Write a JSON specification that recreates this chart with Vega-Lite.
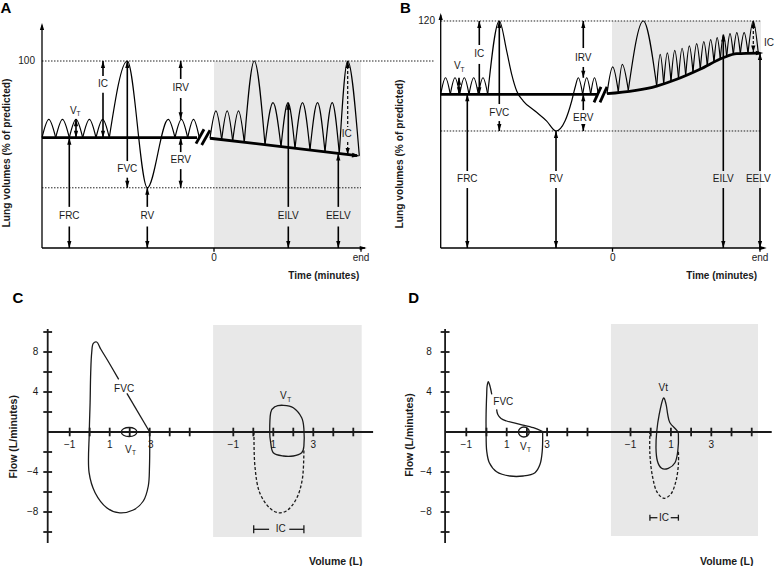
{
"$schema":"https://vega.github.io/schema/vega-lite/v6.json",
"padding":0,
"background":"white",
"config":{"font":"Liberation Sans","view":{"stroke":null},"text":{"font":"Liberation Sans"}},
"spacing":0,
"bounds":"flush",
"columns":2,
"datasets":{
"bg":[
{"p":"A","x":0,"x2":147,"y":100,"y2":0},
{"p":"B","x":0,"x2":149,"y":120,"y2":0},
{"p":"C","x":6.17,"x2":13.6,"y":10.7,"y2":-10.5},
{"p":"D","x":6.16,"x2":13.44,"y":10.8,"y2":-10.4}
],
"seg":[
{"p":"A","k":"axis","x":-172,"y":0,"x2":-172,"y2":119},
{"p":"A","k":"axis","x":-172,"y":0,"x2":151,"y2":0},
{"p":"A","k":"axis","x":0,"y":0,"x2":0,"y2":-2},
{"p":"A","k":"axis","x":147,"y":0,"x2":147,"y2":-2},
{"p":"A","k":"dot","x":-172,"y":100,"x2":173,"y2":100},
{"p":"A","k":"dot","x":-172,"y":32.2,"x2":147,"y2":32.2},
{"p":"A","k":"thick","x":-172,"y":59,"x2":-17,"y2":59},
{"p":"A","k":"thick","x":-4,"y":58.7,"x2":143,"y2":49.4},
{"p":"A","k":"brk","x":-18,"y":55.8,"x2":-10,"y2":63.5},
{"p":"A","k":"brk","x":-12.3,"y":55.1,"x2":-4,"y2":63},
{"p":"A","k":"meas","x":-111,"y":100,"x2":-111,"y2":92},
{"p":"A","k":"meas","x":-111,"y":83,"x2":-111,"y2":59},
{"p":"A","k":"meas","x":-138,"y":68.8,"x2":-138,"y2":59},
{"p":"A","k":"meas","x":-86.7,"y":100,"x2":-86.7,"y2":46.5},
{"p":"A","k":"meas","x":-86.7,"y":37.6,"x2":-86.7,"y2":32.2},
{"p":"A","k":"meas","x":-33.3,"y":100,"x2":-33.3,"y2":90.4},
{"p":"A","k":"meas","x":-33.3,"y":80.2,"x2":-33.3,"y2":68.8},
{"p":"A","k":"meas","x":-33.3,"y":59,"x2":-33.3,"y2":51.3},
{"p":"A","k":"meas","x":-33.3,"y":42.2,"x2":-33.3,"y2":32.2},
{"p":"A","k":"meas","x":-144.7,"y":59,"x2":-144.7,"y2":22},
{"p":"A","k":"meas","x":-144.7,"y":11.5,"x2":-144.7,"y2":0},
{"p":"A","k":"meas","x":-66.7,"y":32.2,"x2":-66.7,"y2":22},
{"p":"A","k":"meas","x":-66.7,"y":11.5,"x2":-66.7,"y2":0},
{"p":"A","k":"meas","x":74.3,"y":77.7,"x2":74.3,"y2":22},
{"p":"A","k":"meas","x":74.3,"y":11.5,"x2":74.3,"y2":0},
{"p":"A","k":"meas","x":124.3,"y":50.6,"x2":124.3,"y2":22},
{"p":"A","k":"meas","x":124.3,"y":11.5,"x2":124.3,"y2":0},
{"p":"A","k":"dash","x":133.7,"y":100,"x2":133.7,"y2":64.7},
{"p":"A","k":"dash","x":133.7,"y":56.7,"x2":133.7,"y2":49.8},

{"p":"B","k":"axis","x":-171.3,"y":0,"x2":-171.3,"y2":123},
{"p":"B","k":"axis","x":-171.3,"y":0,"x2":152,"y2":0},
{"p":"B","k":"axis","x":0.5,"y":0,"x2":0.5,"y2":-2},
{"p":"B","k":"axis","x":148,"y":0,"x2":148,"y2":-2},
{"p":"B","k":"dot","x":-171.3,"y":120,"x2":149,"y2":120},
{"p":"B","k":"dot","x":-225,"y":98.85,"x2":-177,"y2":98.85},
{"p":"B","k":"dot","x":-171.3,"y":61.85,"x2":149,"y2":61.85},
{"p":"B","k":"thick","x":-171.3,"y":81.25,"x2":-15,"y2":81.25},
{"p":"B","k":"brk","x":-18,"y":77,"x2":-11,"y2":85.2},
{"p":"B","k":"brk","x":-12,"y":77,"x2":-5,"y2":85.2},
{"p":"B","k":"meas","x":-132.7,"y":120,"x2":-132.7,"y2":107.3},
{"p":"B","k":"meas","x":-132.7,"y":97.3,"x2":-132.7,"y2":81.25},
{"p":"B","k":"meas","x":-153,"y":90,"x2":-153,"y2":81.25},
{"p":"B","k":"meas","x":-112.7,"y":120,"x2":-112.7,"y2":76.1},
{"p":"B","k":"meas","x":-112.7,"y":67.1,"x2":-112.7,"y2":61.85},
{"p":"B","k":"meas","x":-28.7,"y":120,"x2":-28.7,"y2":105.7},
{"p":"B","k":"meas","x":-28.7,"y":95.7,"x2":-28.7,"y2":90},
{"p":"B","k":"meas","x":-28.7,"y":81.25,"x2":-28.7,"y2":72.9},
{"p":"B","k":"meas","x":-28.7,"y":65,"x2":-28.7,"y2":61.85},
{"p":"B","k":"meas","x":-144.7,"y":81.25,"x2":-144.7,"y2":40.7},
{"p":"B","k":"meas","x":-144.7,"y":31.7,"x2":-144.7,"y2":0},
{"p":"B","k":"meas","x":-56,"y":61.85,"x2":-56,"y2":40.7},
{"p":"B","k":"meas","x":-56,"y":31.7,"x2":-56,"y2":0},
{"p":"B","k":"meas","x":111.3,"y":112.8,"x2":111.3,"y2":40.7},
{"p":"B","k":"meas","x":111.3,"y":31.7,"x2":111.3,"y2":0},
{"p":"B","k":"meas","x":148,"y":103.1,"x2":148,"y2":40.7},
{"p":"B","k":"meas","x":148,"y":31.7,"x2":148,"y2":0},
{"p":"B","k":"dash","x":141.3,"y":120,"x2":141.3,"y2":103.5},

{"p":"C","k":"axis2","x":-2.1,"y":10.3,"x2":-2.1,"y2":-11.1},
{"p":"C","k":"axis2","x":-2.1,"y":0,"x2":14.17,"y2":0},
{"p":"C","k":"axis2","x":-2.32,"y":10,"x2":-1.88,"y2":10},
{"p":"C","k":"axis2","x":-2.32,"y":8,"x2":-1.88,"y2":8},
{"p":"C","k":"axis2","x":-2.32,"y":6,"x2":-1.88,"y2":6},
{"p":"C","k":"axis2","x":-2.32,"y":4,"x2":-1.88,"y2":4},
{"p":"C","k":"axis2","x":-2.32,"y":2,"x2":-1.88,"y2":2},
{"p":"C","k":"axis2","x":-2.32,"y":-2,"x2":-1.88,"y2":-2},
{"p":"C","k":"axis2","x":-2.32,"y":-4,"x2":-1.88,"y2":-4},
{"p":"C","k":"axis2","x":-2.32,"y":-6,"x2":-1.88,"y2":-6},
{"p":"C","k":"axis2","x":-2.32,"y":-8,"x2":-1.88,"y2":-8},
{"p":"C","k":"axis2","x":-2.32,"y":-10,"x2":-1.88,"y2":-10},
{"p":"C","k":"axis2","x":-1,"y":-0.43,"x2":-1,"y2":0.43},
{"p":"C","k":"axis2","x":0,"y":-0.43,"x2":0,"y2":0.43},
{"p":"C","k":"axis2","x":1,"y":-0.43,"x2":1,"y2":0.43},
{"p":"C","k":"axis2","x":2,"y":-0.43,"x2":2,"y2":0.43},
{"p":"C","k":"axis2","x":3,"y":-0.43,"x2":3,"y2":0.43},
{"p":"C","k":"axis2","x":4,"y":-0.43,"x2":4,"y2":0.43},
{"p":"C","k":"axis2","x":5,"y":-0.43,"x2":5,"y2":0.43},
{"p":"C","k":"axis2","x":7.18,"y":-0.43,"x2":7.18,"y2":0.43},
{"p":"C","k":"axis2","x":8.18,"y":-0.43,"x2":8.18,"y2":0.43},
{"p":"C","k":"axis2","x":9.18,"y":-0.43,"x2":9.18,"y2":0.43},
{"p":"C","k":"axis2","x":10.18,"y":-0.43,"x2":10.18,"y2":0.43},
{"p":"C","k":"axis2","x":11.18,"y":-0.43,"x2":11.18,"y2":0.43},
{"p":"C","k":"axis2","x":12.18,"y":-0.43,"x2":12.18,"y2":0.43},
{"p":"C","k":"axis2","x":13.18,"y":-0.43,"x2":13.18,"y2":0.43},
{"p":"C","k":"thin","x":3,"y":0,"x2":1.86,"y2":3.87},
{"p":"C","k":"thin","x":8.2,"y":-9.73,"x2":8.97,"y2":-9.73},
{"p":"C","k":"thin","x":9.98,"y":-9.73,"x2":10.71,"y2":-9.73},
{"p":"C","k":"thin","x":8.2,"y":-9.33,"x2":8.2,"y2":-10.13},
{"p":"C","k":"thin","x":10.71,"y":-9.33,"x2":10.71,"y2":-10.13},

{"p":"D","k":"axis2","x":-2.05,"y":10.3,"x2":-2.05,"y2":-11.1},
{"p":"D","k":"axis2","x":-2.05,"y":0,"x2":14.12,"y2":0},
{"p":"D","k":"axis2","x":-2.27,"y":10,"x2":-1.83,"y2":10},
{"p":"D","k":"axis2","x":-2.27,"y":8,"x2":-1.83,"y2":8},
{"p":"D","k":"axis2","x":-2.27,"y":6,"x2":-1.83,"y2":6},
{"p":"D","k":"axis2","x":-2.27,"y":4,"x2":-1.83,"y2":4},
{"p":"D","k":"axis2","x":-2.27,"y":2,"x2":-1.83,"y2":2},
{"p":"D","k":"axis2","x":-2.27,"y":-2,"x2":-1.83,"y2":-2},
{"p":"D","k":"axis2","x":-2.27,"y":-4,"x2":-1.83,"y2":-4},
{"p":"D","k":"axis2","x":-2.27,"y":-6,"x2":-1.83,"y2":-6},
{"p":"D","k":"axis2","x":-2.27,"y":-8,"x2":-1.83,"y2":-8},
{"p":"D","k":"axis2","x":-2.27,"y":-10,"x2":-1.83,"y2":-10},
{"p":"D","k":"axis2","x":-1,"y":-0.43,"x2":-1,"y2":0.43},
{"p":"D","k":"axis2","x":0,"y":-0.43,"x2":0,"y2":0.43},
{"p":"D","k":"axis2","x":1,"y":-0.43,"x2":1,"y2":0.43},
{"p":"D","k":"axis2","x":2,"y":-0.43,"x2":2,"y2":0.43},
{"p":"D","k":"axis2","x":3,"y":-0.43,"x2":3,"y2":0.43},
{"p":"D","k":"axis2","x":4,"y":-0.43,"x2":4,"y2":0.43},
{"p":"D","k":"axis2","x":5,"y":-0.43,"x2":5,"y2":0.43},
{"p":"D","k":"axis2","x":7.13,"y":-0.43,"x2":7.13,"y2":0.43},
{"p":"D","k":"axis2","x":8.13,"y":-0.43,"x2":8.13,"y2":0.43},
{"p":"D","k":"axis2","x":9.13,"y":-0.43,"x2":9.13,"y2":0.43},
{"p":"D","k":"axis2","x":10.13,"y":-0.43,"x2":10.13,"y2":0.43},
{"p":"D","k":"axis2","x":11.13,"y":-0.43,"x2":11.13,"y2":0.43},
{"p":"D","k":"axis2","x":12.13,"y":-0.43,"x2":12.13,"y2":0.43},
{"p":"D","k":"axis2","x":13.13,"y":-0.43,"x2":13.13,"y2":0.43},
{"p":"D","k":"thin","x":8.09,"y":-8.57,"x2":8.46,"y2":-8.57},
{"p":"D","k":"thin","x":9.12,"y":-8.57,"x2":9.5,"y2":-8.57},
{"p":"D","k":"thin","x":8.09,"y":-8.27,"x2":8.09,"y2":-8.87},
{"p":"D","k":"thin","x":9.5,"y":-8.27,"x2":9.5,"y2":-8.87}
],
"arrow":[
{"p":"A","d":"up","x":-172,"y":120.3},
{"p":"A","d":"up","x":-111,"y":100},
{"p":"A","d":"up","x":-138,"y":68.8},
{"p":"A","d":"up","x":-86.7,"y":100},
{"p":"A","d":"up","x":-33.3,"y":100},
{"p":"A","d":"up","x":-33.3,"y":59},
{"p":"A","d":"up","x":-144.7,"y":59},
{"p":"A","d":"up","x":-66.7,"y":32.2},
{"p":"A","d":"up","x":74.3,"y":77.7},
{"p":"A","d":"up","x":124.3,"y":50.6},
{"p":"A","d":"up","x":133.7,"y":100},
{"p":"A","d":"down","x":-111,"y":59},
{"p":"A","d":"down","x":-138,"y":59},
{"p":"A","d":"down","x":-86.7,"y":32.2},
{"p":"A","d":"down","x":-33.3,"y":68.8},
{"p":"A","d":"down","x":-33.3,"y":32.2},
{"p":"A","d":"down","x":-144.7,"y":0},
{"p":"A","d":"down","x":-66.7,"y":0},
{"p":"A","d":"down","x":74.3,"y":0},
{"p":"A","d":"down","x":124.3,"y":0},
{"p":"A","d":"down","x":133.7,"y":49.8},
{"p":"A","d":"right","x":152.7,"y":0},
{"p":"A","d":"rightA","x":146,"y":49.2},
{"p":"B","d":"up","x":-171.3,"y":124.2},
{"p":"B","d":"up","x":-132.7,"y":120},
{"p":"B","d":"up","x":-153,"y":90},
{"p":"B","d":"up","x":-112.7,"y":120},
{"p":"B","d":"up","x":-28.7,"y":120},
{"p":"B","d":"up","x":-28.7,"y":81.25},
{"p":"B","d":"up","x":-144.7,"y":81.25},
{"p":"B","d":"up","x":-56,"y":61.85},
{"p":"B","d":"up","x":111.3,"y":112.8},
{"p":"B","d":"up","x":148,"y":103.1},
{"p":"B","d":"up","x":141.3,"y":120},
{"p":"B","d":"down","x":-132.7,"y":81.25},
{"p":"B","d":"down","x":-153,"y":81.25},
{"p":"B","d":"down","x":-112.7,"y":61.85},
{"p":"B","d":"down","x":-28.7,"y":90},
{"p":"B","d":"down","x":-28.7,"y":61.85},
{"p":"B","d":"down","x":-144.7,"y":0},
{"p":"B","d":"down","x":-56,"y":0},
{"p":"B","d":"down","x":111.3,"y":0},
{"p":"B","d":"down","x":148,"y":0},
{"p":"B","d":"down","x":141.3,"y":103.3},
{"p":"B","d":"right","x":154.7,"y":0},
{"p":"B","d":"right","x":151.3,"y":103.1}
],
"curve":[
{"p":"A","k":"mono","s":"a1","x":-172,"y":59},{"p":"A","k":"mono","s":"a1","x":-165.2,"y":68.8},{"p":"A","k":"mono","s":"a1","x":-158.3,"y":59},
{"p":"A","k":"mono","s":"a2","x":-158.3,"y":59},{"p":"A","k":"mono","s":"a2","x":-151.5,"y":68.8},{"p":"A","k":"mono","s":"a2","x":-144.7,"y":59},
{"p":"A","k":"mono","s":"a3","x":-144.7,"y":59},{"p":"A","k":"mono","s":"a3","x":-138,"y":68.8},{"p":"A","k":"mono","s":"a3","x":-131.3,"y":59},
{"p":"A","k":"mono","s":"a4","x":-131.3,"y":59},{"p":"A","k":"mono","s":"a4","x":-124.6,"y":68.8},{"p":"A","k":"mono","s":"a4","x":-118,"y":59},
{"p":"A","k":"mono","s":"a5","x":-118,"y":59},{"p":"A","k":"mono","s":"a5","x":-111.3,"y":68.8},{"p":"A","k":"mono","s":"a5","x":-104.7,"y":59},
{"p":"A","k":"mono","s":"f","x":-104.7,"y":59},{"p":"A","k":"mono","s":"f","x":-86.7,"y":100},{"p":"A","k":"mono","s":"f","x":-66.7,"y":32.2},{"p":"A","k":"mono","s":"f","x":-45.7,"y":68.8},{"p":"A","k":"mono","s":"f","x":-39,"y":59},
{"p":"A","k":"mono","s":"a6","x":-39,"y":59},{"p":"A","k":"mono","s":"a6","x":-32.6,"y":68.8},{"p":"A","k":"mono","s":"a6","x":-26.3,"y":59},
{"p":"A","k":"mono","s":"a7","x":-26.3,"y":59},{"p":"A","k":"mono","s":"a7","x":-20.5,"y":68.8},{"p":"A","k":"mono","s":"a7","x":-14.7,"y":59},
{"p":"A","k":"mono","s":"b1","x":-4,"y":58.7},{"p":"A","k":"mono","s":"b1","x":1.9,"y":73.3},{"p":"A","k":"mono","s":"b1","x":7.7,"y":58},
{"p":"A","k":"mono","s":"b2","x":7.7,"y":58},{"p":"A","k":"mono","s":"b2","x":13.2,"y":73.3},{"p":"A","k":"mono","s":"b2","x":18.7,"y":57.3},
{"p":"A","k":"mono","s":"b3","x":18.7,"y":57.3},{"p":"A","k":"mono","s":"b3","x":24.5,"y":73.3},{"p":"A","k":"mono","s":"b3","x":30.3,"y":56.5},
{"p":"A","k":"mono","s":"g1","x":30.3,"y":56.5},{"p":"A","k":"mono","s":"g1","x":40.3,"y":100},{"p":"A","k":"mono","s":"g1","x":51,"y":55.2},
{"p":"A","k":"mono","s":"b4","x":51,"y":55.2},{"p":"A","k":"mono","s":"b4","x":59,"y":77.7},{"p":"A","k":"mono","s":"b4","x":67,"y":54.2},
{"p":"A","k":"mono","s":"b5","x":67,"y":54.2},{"p":"A","k":"mono","s":"b5","x":74,"y":77.7},{"p":"A","k":"mono","s":"b5","x":81,"y":53.3},
{"p":"A","k":"mono","s":"b6","x":81,"y":53.3},{"p":"A","k":"mono","s":"b6","x":88.5,"y":77.7},{"p":"A","k":"mono","s":"b6","x":96,"y":52.4},
{"p":"A","k":"mono","s":"b7","x":96,"y":52.4},{"p":"A","k":"mono","s":"b7","x":103.5,"y":77.7},{"p":"A","k":"mono","s":"b7","x":111,"y":51.4},
{"p":"A","k":"mono","s":"b8","x":111,"y":51.4},{"p":"A","k":"mono","s":"b8","x":118.2,"y":77.7},{"p":"A","k":"mono","s":"b8","x":125.3,"y":50.5},
{"p":"A","k":"mono","s":"g2","x":125.3,"y":50.5},{"p":"A","k":"mono","s":"g2","x":133.7,"y":100},{"p":"A","k":"mono","s":"g2","x":145.3,"y":49.3},

{"p":"B","k":"mono","s":"c1","x":-171.3,"y":81.25},{"p":"B","k":"mono","s":"c1","x":-166.5,"y":90},{"p":"B","k":"mono","s":"c1","x":-161.7,"y":81.25},
{"p":"B","k":"mono","s":"c2","x":-161.7,"y":81.25},{"p":"B","k":"mono","s":"c2","x":-157,"y":90},{"p":"B","k":"mono","s":"c2","x":-152.3,"y":81.25},
{"p":"B","k":"mono","s":"c3","x":-152.3,"y":81.25},{"p":"B","k":"mono","s":"c3","x":-147.7,"y":90},{"p":"B","k":"mono","s":"c3","x":-143,"y":81.25},
{"p":"B","k":"mono","s":"c4","x":-143,"y":81.25},{"p":"B","k":"mono","s":"c4","x":-138.3,"y":90},{"p":"B","k":"mono","s":"c4","x":-133.7,"y":81.25},
{"p":"B","k":"mono","s":"c5","x":-133.7,"y":81.25},{"p":"B","k":"mono","s":"c5","x":-129,"y":90},{"p":"B","k":"mono","s":"c5","x":-124.3,"y":81.25},
{"p":"B","k":"mono","s":"f","x":-124.3,"y":81.25},{"p":"B","k":"mono","s":"f","x":-112.7,"y":120},{"p":"B","k":"mono","s":"f","x":-105.3,"y":104.1},{"p":"B","k":"mono","s":"f","x":-100.3,"y":91.8},{"p":"B","k":"mono","s":"f","x":-95.3,"y":83},{"p":"B","k":"mono","s":"f","x":-88.7,"y":77.7},{"p":"B","k":"mono","s":"f","x":-77,"y":72.4},{"p":"B","k":"mono","s":"f","x":-65.3,"y":67.1},{"p":"B","k":"mono","s":"f","x":-56,"y":61.85},{"p":"B","k":"mono","s":"f","x":-47,"y":67.1},{"p":"B","k":"mono","s":"f","x":-40.3,"y":77.7},{"p":"B","k":"mono","s":"f","x":-37,"y":84.7},{"p":"B","k":"mono","s":"f","x":-33.7,"y":90},{"p":"B","k":"mono","s":"f","x":-29.3,"y":81.25},
{"p":"B","k":"mono","s":"c6","x":-29.3,"y":81.25},{"p":"B","k":"mono","s":"c6","x":-25.3,"y":90},{"p":"B","k":"mono","s":"c6","x":-21.3,"y":81.25},
{"p":"B","k":"mono","s":"c7","x":-21.3,"y":81.25},{"p":"B","k":"mono","s":"c7","x":-17.5,"y":90},{"p":"B","k":"mono","s":"c7","x":-13.7,"y":81.25},
{"p":"B","k":"mono","s":"d1","x":-5,"y":81.6},{"p":"B","k":"mono","s":"d1","x":0.7,"y":95.7},{"p":"B","k":"mono","s":"d1","x":6.3,"y":82.6},
{"p":"B","k":"mono","s":"d2","x":6.3,"y":82.6},{"p":"B","k":"mono","s":"d2","x":10.3,"y":97.1},{"p":"B","k":"mono","s":"d2","x":16.3,"y":83.4},
{"p":"B","k":"mono","s":"g1","x":16.3,"y":83.4},{"p":"B","k":"mono","s":"g1","x":31.3,"y":120},{"p":"B","k":"mono","s":"g1","x":44.7,"y":85.6},
{"p":"B","k":"mono","s":"e1","x":44.7,"y":85.6},{"p":"B","k":"mono","s":"e1","x":48.2,"y":102.4},{"p":"B","k":"mono","s":"e1","x":51.7,"y":86.86},
{"p":"B","k":"mono","s":"e2","x":51.7,"y":86.86},{"p":"B","k":"mono","s":"e2","x":55.35,"y":103.2},{"p":"B","k":"mono","s":"e2","x":59,"y":88.17},
{"p":"B","k":"mono","s":"e3","x":59,"y":88.17},{"p":"B","k":"mono","s":"e3","x":62.75,"y":104.5},{"p":"B","k":"mono","s":"e3","x":66.5,"y":89.6},
{"p":"B","k":"mono","s":"e4","x":66.5,"y":89.6},{"p":"B","k":"mono","s":"e4","x":70.1,"y":105.6},{"p":"B","k":"mono","s":"e4","x":73.7,"y":91.24},
{"p":"B","k":"mono","s":"e5","x":73.7,"y":91.24},{"p":"B","k":"mono","s":"e5","x":77.35,"y":106.8},{"p":"B","k":"mono","s":"e5","x":81,"y":92.9},
{"p":"B","k":"mono","s":"e6","x":81,"y":92.9},{"p":"B","k":"mono","s":"e6","x":84.65,"y":108},{"p":"B","k":"mono","s":"e6","x":88.3,"y":94.58},
{"p":"B","k":"mono","s":"e7","x":88.3,"y":94.58},{"p":"B","k":"mono","s":"e7","x":91.8,"y":109.1},{"p":"B","k":"mono","s":"e7","x":95.3,"y":96.41},
{"p":"B","k":"mono","s":"e8","x":95.3,"y":96.41},{"p":"B","k":"mono","s":"e8","x":98.65,"y":110.1},{"p":"B","k":"mono","s":"e8","x":102,"y":98.17},
{"p":"B","k":"mono","s":"e9","x":102,"y":98.17},{"p":"B","k":"mono","s":"e9","x":105.15,"y":111.2},{"p":"B","k":"mono","s":"e9","x":108.3,"y":99.82},
{"p":"B","k":"mono","s":"e10","x":108.3,"y":99.82},{"p":"B","k":"mono","s":"e10","x":111.5,"y":112.6},{"p":"B","k":"mono","s":"e10","x":114.7,"y":101.13},
{"p":"B","k":"mono","s":"e11","x":114.7,"y":101.13},{"p":"B","k":"mono","s":"e11","x":118,"y":113.3},{"p":"B","k":"mono","s":"e11","x":121.3,"y":102.17},
{"p":"B","k":"mono","s":"e12","x":121.3,"y":102.17},{"p":"B","k":"mono","s":"e12","x":124.8,"y":113.8},{"p":"B","k":"mono","s":"e12","x":128.3,"y":102.75},
{"p":"B","k":"mono","s":"e13","x":128.3,"y":102.75},{"p":"B","k":"mono","s":"e13","x":132.15,"y":113.8},{"p":"B","k":"mono","s":"e13","x":136,"y":102.87},
{"p":"B","k":"mono","s":"g2","x":136,"y":102.87},{"p":"B","k":"mono","s":"g2","x":141.2,"y":120},{"p":"B","k":"mono","s":"g2","x":146.3,"y":103.02},
{"p":"B","k":"thickline","s":"base","x":-5,"y":81.6},{"p":"B","k":"thickline","s":"base","x":44.7,"y":85.6},{"p":"B","k":"thickline","s":"base","x":64.7,"y":89.2},{"p":"B","k":"thickline","s":"base","x":88,"y":94.5},{"p":"B","k":"thickline","s":"base","x":111.3,"y":100.6},{"p":"B","k":"thickline","s":"base","x":124.7,"y":102.7},{"p":"B","k":"thickline","s":"base","x":147,"y":103.05},

{"p":"C","k":"open","s":"fvc","o":1,"x":1.45,"y":5.27},{"p":"C","k":"open","s":"fvc","o":2,"x":0.9,"y":7.15},{"p":"C","k":"open","s":"fvc","o":3,"x":0.55,"y":8.3},{"p":"C","k":"open","s":"fvc","o":4,"x":0.35,"y":9.0},{"p":"C","k":"open","s":"fvc","o":5,"x":0.18,"y":8.87},{"p":"C","k":"open","s":"fvc","o":6,"x":0.1,"y":7.93},{"p":"C","k":"open","s":"fvc","o":7,"x":0.05,"y":5.93},{"p":"C","k":"open","s":"fvc","o":8,"x":0.02,"y":2.93},{"p":"C","k":"open","s":"fvc","o":9,"x":-0.02,"y":0},{"p":"C","k":"open","s":"fvc","o":10,"x":-0.03,"y":-4.07},{"p":"C","k":"open","s":"fvc","o":11,"x":0.27,"y":-6.07},{"p":"C","k":"open","s":"fvc","o":12,"x":0.85,"y":-7.57},{"p":"C","k":"open","s":"fvc","o":13,"x":1.43,"y":-8.07},{"p":"C","k":"open","s":"fvc","o":14,"x":2.18,"y":-7.8},{"p":"C","k":"open","s":"fvc","o":15,"x":2.68,"y":-6.9},{"p":"C","k":"open","s":"fvc","o":16,"x":2.93,"y":-5.4},{"p":"C","k":"open","s":"fvc","o":17,"x":2.99,"y":-3.4},{"p":"C","k":"open","s":"fvc","o":18,"x":3,"y":0},
{"p":"C","k":"closed","s":"vt1","o":1,"x":2.36,"y":0},{"p":"C","k":"closed","s":"vt1","o":2,"x":2.25,"y":0.32},{"p":"C","k":"closed","s":"vt1","o":3,"x":1.97,"y":0.45},{"p":"C","k":"closed","s":"vt1","o":4,"x":1.69,"y":0.32},{"p":"C","k":"closed","s":"vt1","o":5,"x":1.58,"y":0},{"p":"C","k":"closed","s":"vt1","o":6,"x":1.69,"y":-0.32},{"p":"C","k":"closed","s":"vt1","o":7,"x":1.97,"y":-0.45},{"p":"C","k":"closed","s":"vt1","o":8,"x":2.25,"y":-0.32},
{"p":"C","k":"closed","s":"vt2","o":1,"x":9.0,"y":0},{"p":"C","k":"closed","s":"vt2","o":2,"x":9.05,"y":1.93},{"p":"C","k":"closed","s":"vt2","o":3,"x":9.26,"y":2.53},{"p":"C","k":"closed","s":"vt2","o":4,"x":9.68,"y":2.67},{"p":"C","k":"closed","s":"vt2","o":5,"x":10.18,"y":2.43},{"p":"C","k":"closed","s":"vt2","o":6,"x":10.6,"y":1.43},{"p":"C","k":"closed","s":"vt2","o":7,"x":10.71,"y":0.27},{"p":"C","k":"closed","s":"vt2","o":8,"x":10.71,"y":-1.4},{"p":"C","k":"closed","s":"vt2","o":9,"x":10.6,"y":-2.07},{"p":"C","k":"closed","s":"vt2","o":10,"x":10.18,"y":-2.4},{"p":"C","k":"closed","s":"vt2","o":11,"x":9.68,"y":-2.4},{"p":"C","k":"closed","s":"vt2","o":12,"x":9.18,"y":-2.07},{"p":"C","k":"closed","s":"vt2","o":13,"x":9.05,"y":-1.07},
{"p":"C","k":"dash","s":"ic","o":1,"x":8.215,"y":0},{"p":"C","k":"dash","s":"ic","o":2,"x":8.26,"y":-3.4},{"p":"C","k":"dash","s":"ic","o":3,"x":8.5,"y":-6.07},{"p":"C","k":"dash","s":"ic","o":4,"x":9.0,"y":-7.6},{"p":"C","k":"dash","s":"ic","o":5,"x":9.42,"y":-8.07},{"p":"C","k":"dash","s":"ic","o":6,"x":9.83,"y":-7.9},{"p":"C","k":"dash","s":"ic","o":7,"x":10.33,"y":-6.7},{"p":"C","k":"dash","s":"ic","o":8,"x":10.63,"y":-4.73},{"p":"C","k":"dash","s":"ic","o":9,"x":10.71,"y":-1.73},

{"p":"D","k":"open","s":"fvc1","o":1,"x":0.26,"y":3.77},{"p":"D","k":"open","s":"fvc1","o":2,"x":0.17,"y":4.6},{"p":"D","k":"open","s":"fvc1","o":3,"x":0.09,"y":5.03},{"p":"D","k":"open","s":"fvc1","o":4,"x":0.03,"y":4.6},{"p":"D","k":"open","s":"fvc1","o":5,"x":0.01,"y":3.77},{"p":"D","k":"open","s":"fvc1","o":6,"x":-0.02,"y":1.77},{"p":"D","k":"open","s":"fvc1","o":7,"x":-0.02,"y":0},{"p":"D","k":"open","s":"fvc1","o":8,"x":0.01,"y":-1.9},{"p":"D","k":"open","s":"fvc1","o":9,"x":0.14,"y":-3.07},{"p":"D","k":"open","s":"fvc1","o":10,"x":0.5,"y":-3.97},{"p":"D","k":"open","s":"fvc1","o":11,"x":1.16,"y":-4.4},{"p":"D","k":"open","s":"fvc1","o":12,"x":1.82,"y":-4.4},{"p":"D","k":"open","s":"fvc1","o":13,"x":2.4,"y":-4.07},{"p":"D","k":"open","s":"fvc1","o":14,"x":2.65,"y":-3.23},{"p":"D","k":"open","s":"fvc1","o":15,"x":2.76,"y":-1.9},{"p":"D","k":"open","s":"fvc1","o":16,"x":2.78,"y":0},
{"p":"D","k":"open","s":"fvc2","o":1,"x":0.5,"y":2.27},{"p":"D","k":"open","s":"fvc2","o":2,"x":0.56,"y":1.75},{"p":"D","k":"open","s":"fvc2","o":3,"x":0.72,"y":1.35},{"p":"D","k":"open","s":"fvc2","o":4,"x":1.0,"y":1.1},{"p":"D","k":"open","s":"fvc2","o":5,"x":1.66,"y":0.77},{"p":"D","k":"open","s":"fvc2","o":6,"x":2.32,"y":0.43},{"p":"D","k":"open","s":"fvc2","o":7,"x":2.78,"y":0.05},
{"p":"D","k":"closed","s":"vt1","o":1,"x":2.12,"y":0},{"p":"D","k":"closed","s":"vt1","o":2,"x":2.04,"y":0.35},{"p":"D","k":"closed","s":"vt1","o":3,"x":1.85,"y":0.5},{"p":"D","k":"closed","s":"vt1","o":4,"x":1.66,"y":0.35},{"p":"D","k":"closed","s":"vt1","o":5,"x":1.58,"y":0},{"p":"D","k":"closed","s":"vt1","o":6,"x":1.66,"y":-0.35},{"p":"D","k":"closed","s":"vt1","o":7,"x":1.85,"y":-0.5},{"p":"D","k":"closed","s":"vt1","o":8,"x":2.04,"y":-0.35},
{"p":"D","k":"closed","s":"vt2","o":1,"x":8.75,"y":3.37},{"p":"D","k":"closed","s":"vt2","o":2,"x":8.89,"y":2.77},{"p":"D","k":"closed","s":"vt2","o":3,"x":8.97,"y":1.77},{"p":"D","k":"closed","s":"vt2","o":4,"x":9.08,"y":0.93},{"p":"D","k":"closed","s":"vt2","o":5,"x":9.42,"y":0.17},{"p":"D","k":"closed","s":"vt2","o":6,"x":9.5,"y":-0.23},{"p":"D","k":"closed","s":"vt2","o":7,"x":9.47,"y":-1.9},{"p":"D","k":"closed","s":"vt2","o":8,"x":9.33,"y":-3.07},{"p":"D","k":"closed","s":"vt2","o":9,"x":9.0,"y":-3.63},{"p":"D","k":"closed","s":"vt2","o":10,"x":8.67,"y":-3.63},{"p":"D","k":"closed","s":"vt2","o":11,"x":8.46,"y":-2.9},{"p":"D","k":"closed","s":"vt2","o":12,"x":8.39,"y":-1.57},{"p":"D","k":"closed","s":"vt2","o":13,"x":8.43,"y":0.1},{"p":"D","k":"closed","s":"vt2","o":14,"x":8.55,"y":1.77},
{"p":"D","k":"dash","s":"ic","o":1,"x":8.09,"y":0.1},{"p":"D","k":"dash","s":"ic","o":2,"x":8.09,"y":-2.23},{"p":"D","k":"dash","s":"ic","o":3,"x":8.23,"y":-4.57},{"p":"D","k":"dash","s":"ic","o":4,"x":8.46,"y":-6.07},{"p":"D","k":"dash","s":"ic","o":5,"x":8.79,"y":-6.63},{"p":"D","k":"dash","s":"ic","o":6,"x":9.12,"y":-6.23},{"p":"D","k":"dash","s":"ic","o":7,"x":9.38,"y":-4.9},{"p":"D","k":"dash","s":"ic","o":8,"x":9.5,"y":-3.23},{"p":"D","k":"dash","s":"ic","o":9,"x":9.5,"y":-1.9}
],
"text":[
{"p":"A","k":"letter","t":"A","x":-208,"y":128.5},
{"p":"A","k":"ylab","t":"100","x":-179,"y":100},
{"p":"A","k":"lab","t":"IC","x":-111,"y":87.5},
{"p":"A","k":"lab","t":"V","x":-140.7,"y":73.5},
{"p":"A","k":"sub","t":"T","x":-135.5,"y":71.6},
{"p":"A","k":"lab","t":"FVC","x":-86.7,"y":42.1},
{"p":"A","k":"lab","t":"IRV","x":-33.3,"y":85.3},
{"p":"A","k":"lab","t":"ERV","x":-33.3,"y":46.8},
{"p":"A","k":"lab","t":"FRC","x":-144.7,"y":17.1},
{"p":"A","k":"lab","t":"RV","x":-66.7,"y":17.1},
{"p":"A","k":"lab","t":"EILV","x":74.3,"y":17.1},
{"p":"A","k":"lab","t":"EELV","x":124.3,"y":17.1},
{"p":"A","k":"lab","t":"IC","x":132.7,"y":60.8},
{"p":"A","k":"lab","t":"0","x":0,"y":-5.3},
{"p":"A","k":"lab","t":"end","x":147,"y":-5.3},
{"p":"A","k":"title","t":"Time (minutes)","x":109.8,"y":-15},
{"p":"A","k":"rot","t":"Lung volumes (% of predicted)","x":-207.3,"y":50.8},
{"p":"B","k":"letter","t":"B","x":-206.5,"y":127},
{"p":"B","k":"ylab","t":"120","x":-177,"y":120},
{"p":"B","k":"lab","t":"IC","x":-132.7,"y":102.4},
{"p":"B","k":"lab","t":"V","x":-154.7,"y":96.2},
{"p":"B","k":"sub","t":"T","x":-149.5,"y":94.3},
{"p":"B","k":"lab","t":"FVC","x":-112.7,"y":71.5},
{"p":"B","k":"lab","t":"IRV","x":-28.7,"y":100.6},
{"p":"B","k":"lab","t":"ERV","x":-28.7,"y":68.9},
{"p":"B","k":"lab","t":"FRC","x":-144.7,"y":36.3},
{"p":"B","k":"lab","t":"RV","x":-56,"y":36.3},
{"p":"B","k":"lab","t":"EILV","x":111.3,"y":36.3},
{"p":"B","k":"lab","t":"EELV","x":146.3,"y":36.3},
{"p":"B","k":"lab","t":"IC","x":157,"y":108.5},
{"p":"B","k":"lab","t":"0","x":0.7,"y":-5.3},
{"p":"B","k":"lab","t":"end","x":148,"y":-5.3},
{"p":"B","k":"title","t":"Time (minutes)","x":109.7,"y":-14.8},
{"p":"B","k":"rot","t":"Lung volumes (% of predicted)","x":-212,"y":49.7},
{"p":"C","k":"letter","t":"C","x":-3.585,"y":13.43},
{"p":"C","k":"ylab","t":"8","x":-2.57,"y":8},
{"p":"C","k":"ylab","t":"4","x":-2.57,"y":4},
{"p":"C","k":"ylab","t":"−4","x":-2.57,"y":-4},
{"p":"C","k":"ylab","t":"−8","x":-2.57,"y":-8},
{"p":"C","k":"lab","t":"−1","x":-1,"y":-1.33},
{"p":"C","k":"lab","t":"1","x":1,"y":-1.33},
{"p":"C","k":"lab","t":"3","x":3.05,"y":-1.33},
{"p":"C","k":"lab","t":"−1","x":7.18,"y":-1.33},
{"p":"C","k":"lab","t":"1","x":9.18,"y":-1.33},
{"p":"C","k":"lab","t":"3","x":11.18,"y":-1.33},
{"p":"C","k":"lab","t":"FVC","x":1.72,"y":4.33},
{"p":"C","k":"lab","t":"V","x":1.93,"y":-1.8},
{"p":"C","k":"sub","t":"T","x":2.22,"y":-2.1},
{"p":"C","k":"lab","t":"V","x":9.68,"y":3.6},
{"p":"C","k":"sub","t":"T","x":9.98,"y":3.25},
{"p":"C","k":"lab","t":"IC","x":9.55,"y":-9.73},
{"p":"C","k":"title","t":"Volume (L)","x":12.3,"y":-13.0},
{"p":"C","k":"rot","t":"Flow (L/minutes)","x":-3.785,"y":-0.48},
{"p":"D","k":"letter","t":"D","x":-3.6,"y":13.43},
{"p":"D","k":"ylab","t":"8","x":-2.71,"y":8},
{"p":"D","k":"ylab","t":"4","x":-2.71,"y":4},
{"p":"D","k":"ylab","t":"−4","x":-2.71,"y":-4},
{"p":"D","k":"ylab","t":"−8","x":-2.71,"y":-8},
{"p":"D","k":"lab","t":"−1","x":-1,"y":-1.33},
{"p":"D","k":"lab","t":"1","x":1,"y":-1.33},
{"p":"D","k":"lab","t":"3","x":3,"y":-1.33},
{"p":"D","k":"lab","t":"−1","x":7.13,"y":-1.33},
{"p":"D","k":"lab","t":"1","x":9.13,"y":-1.33},
{"p":"D","k":"lab","t":"3","x":11.13,"y":-1.33},
{"p":"D","k":"lab","t":"FVC","x":0.83,"y":3.03},
{"p":"D","k":"lab","t":"V","x":1.82,"y":-1.45},
{"p":"D","k":"sub","t":"T","x":2.1,"y":-1.75},
{"p":"D","k":"lab","t":"Vt","x":8.75,"y":4.37},
{"p":"D","k":"lab","t":"IC","x":8.79,"y":-8.57},
{"p":"D","k":"title","t":"Volume (L)","x":11.89,"y":-13.0},
{"p":"D","k":"rot","t":"Flow (L/minutes)","x":-3.79,"y":-0.3}
]
},
"concat":[
{"width":387,"height":283,
"encoding":{"x":{"field":"x","type":"quantitative","scale":{"domain":[-214,173],"nice":false,"zero":false},"axis":null},"y":{"field":"y","type":"quantitative","scale":{"domain":[-19.25,132.09],"nice":false,"zero":false},"axis":null}},
"layer":[
{"data":{"name":"bg"},"transform":[{"filter":"datum.p==='A'"}],"mark":{"type":"rect","color":"#e8e8e8"},"encoding":{"x2":{"field":"x2"},"y2":{"field":"y2"}}},
{"data":{"name":"seg"},"transform":[{"filter":"datum.p==='A' && datum.k==='dot'"}],"mark":{"type":"rule","strokeDash":[1.5,1.5],"strokeWidth":1,"color":"#222"},"encoding":{"x2":{"field":"x2"},"y2":{"field":"y2"}}},
{"data":{"name":"curve"},"transform":[{"filter":"datum.p==='A' && datum.k==='mono'"}],"mark":{"type":"line","interpolate":"monotone","strokeWidth":1.2,"color":"black"},"encoding":{"detail":{"field":"s"}}},
{"data":{"name":"seg"},"transform":[{"filter":"datum.p==='A' && (datum.k==='thick' || datum.k==='brk')"}],"mark":{"type":"rule","strokeWidth":2.8,"color":"black"},"encoding":{"x2":{"field":"x2"},"y2":{"field":"y2"}}},
{"data":{"name":"seg"},"transform":[{"filter":"datum.p==='A' && datum.k==='meas'"}],"mark":{"type":"rule","strokeWidth":1.6,"color":"black"},"encoding":{"x2":{"field":"x2"},"y2":{"field":"y2"}}},
{"data":{"name":"seg"},"transform":[{"filter":"datum.p==='A' && datum.k==='dash'"}],"mark":{"type":"rule","strokeWidth":1.2,"strokeDash":[3,2],"color":"black"},"encoding":{"x2":{"field":"x2"},"y2":{"field":"y2"}}},
{"data":{"name":"seg"},"transform":[{"filter":"datum.p==='A' && datum.k==='axis'"}],"mark":{"type":"rule","strokeWidth":1.3,"color":"black"},"encoding":{"x2":{"field":"x2"},"y2":{"field":"y2"}}},
{"data":{"name":"arrow"},"transform":[{"filter":"datum.p==='A' && datum.d==='up'"}],"mark":{"type":"point","shape":"M0,0L0.6,2L-0.6,2Z","size":49,"filled":true,"color":"black","opacity":1,"strokeWidth":0}},
{"data":{"name":"arrow"},"transform":[{"filter":"datum.p==='A' && datum.d==='down'"}],"mark":{"type":"point","shape":"M0,0L0.6,-2L-0.6,-2Z","size":49,"filled":true,"color":"black","opacity":1,"strokeWidth":0}},
{"data":{"name":"arrow"},"transform":[{"filter":"datum.p==='A' && datum.d==='right'"}],"mark":{"type":"point","shape":"M0,0L-2,-0.6L-2,0.6Z","size":49,"filled":true,"color":"black","opacity":1,"strokeWidth":0}},
{"data":{"name":"arrow"},"transform":[{"filter":"datum.p==='A' && datum.d==='rightA'"}],"mark":{"type":"point","shape":"M0,0L-2,-0.6L-2,0.6Z","size":64,"angle":6.8,"filled":true,"color":"black","opacity":1,"strokeWidth":0}},
{"data":{"name":"text"},"transform":[{"filter":"datum.p==='A' && datum.k==='lab'"}],"mark":{"type":"text","fontSize":10,"align":"center","baseline":"middle","color":"#1a1a1a"},"encoding":{"text":{"field":"t"}}},
{"data":{"name":"text"},"transform":[{"filter":"datum.p==='A' && datum.k==='sub'"}],"mark":{"type":"text","fontSize":6.5,"align":"center","baseline":"middle","color":"#1a1a1a"},"encoding":{"text":{"field":"t"}}},
{"data":{"name":"text"},"transform":[{"filter":"datum.p==='A' && datum.k==='ylab'"}],"mark":{"type":"text","fontSize":10,"align":"right","baseline":"middle","color":"#1a1a1a"},"encoding":{"text":{"field":"t"}}},
{"data":{"name":"text"},"transform":[{"filter":"datum.p==='A' && datum.k==='title'"}],"mark":{"type":"text","fontSize":10,"fontWeight":"bold","align":"center","baseline":"middle","color":"#1a1a1a"},"encoding":{"text":{"field":"t"}}},
{"data":{"name":"text"},"transform":[{"filter":"datum.p==='A' && datum.k==='rot'"}],"mark":{"type":"text","fontSize":10.2,"fontWeight":"bold","angle":270,"align":"center","baseline":"middle","color":"#1a1a1a"},"encoding":{"text":{"field":"t"}}},
{"data":{"name":"text"},"transform":[{"filter":"datum.p==='A' && datum.k==='letter'"}],"mark":{"type":"text","fontSize":15,"fontWeight":"bold","align":"center","baseline":"middle","color":"black"},"encoding":{"text":{"field":"t"}}}
]},
{"width":387,"height":283,
"encoding":{"x":{"field":"x","type":"quantitative","scale":{"domain":[-225,162],"nice":false,"zero":false},"axis":null},"y":{"field":"y","type":"quantitative","scale":{"domain":[-19.03,130.57],"nice":false,"zero":false},"axis":null}},
"layer":[
{"data":{"name":"bg"},"transform":[{"filter":"datum.p==='B'"}],"mark":{"type":"rect","color":"#e8e8e8"},"encoding":{"x2":{"field":"x2"},"y2":{"field":"y2"}}},
{"data":{"name":"seg"},"transform":[{"filter":"datum.p==='B' && datum.k==='dot'"}],"mark":{"type":"rule","strokeDash":[1.5,1.5],"strokeWidth":1,"color":"#222"},"encoding":{"x2":{"field":"x2"},"y2":{"field":"y2"}}},
{"data":{"name":"curve"},"transform":[{"filter":"datum.p==='B' && datum.k==='mono'"}],"mark":{"type":"line","interpolate":"monotone","strokeWidth":1.2,"color":"black"},"encoding":{"detail":{"field":"s"}}},
{"data":{"name":"curve"},"transform":[{"filter":"datum.p==='B' && datum.k==='thickline'"}],"mark":{"type":"line","interpolate":"monotone","strokeWidth":2.8,"color":"black"},"encoding":{"detail":{"field":"s"}}},
{"data":{"name":"seg"},"transform":[{"filter":"datum.p==='B' && (datum.k==='thick' || datum.k==='brk')"}],"mark":{"type":"rule","strokeWidth":2.8,"color":"black"},"encoding":{"x2":{"field":"x2"},"y2":{"field":"y2"}}},
{"data":{"name":"seg"},"transform":[{"filter":"datum.p==='B' && datum.k==='meas'"}],"mark":{"type":"rule","strokeWidth":1.6,"color":"black"},"encoding":{"x2":{"field":"x2"},"y2":{"field":"y2"}}},
{"data":{"name":"seg"},"transform":[{"filter":"datum.p==='B' && datum.k==='dash'"}],"mark":{"type":"rule","strokeWidth":1.2,"strokeDash":[3,2],"color":"black"},"encoding":{"x2":{"field":"x2"},"y2":{"field":"y2"}}},
{"data":{"name":"seg"},"transform":[{"filter":"datum.p==='B' && datum.k==='axis'"}],"mark":{"type":"rule","strokeWidth":1.3,"color":"black"},"encoding":{"x2":{"field":"x2"},"y2":{"field":"y2"}}},
{"data":{"name":"arrow"},"transform":[{"filter":"datum.p==='B' && datum.d==='up'"}],"mark":{"type":"point","shape":"M0,0L0.6,2L-0.6,2Z","size":49,"filled":true,"color":"black","opacity":1,"strokeWidth":0}},
{"data":{"name":"arrow"},"transform":[{"filter":"datum.p==='B' && datum.d==='down'"}],"mark":{"type":"point","shape":"M0,0L0.6,-2L-0.6,-2Z","size":49,"filled":true,"color":"black","opacity":1,"strokeWidth":0}},
{"data":{"name":"arrow"},"transform":[{"filter":"datum.p==='B' && datum.d==='right'"}],"mark":{"type":"point","shape":"M0,0L-2,-0.6L-2,0.6Z","size":56,"filled":true,"color":"black","opacity":1,"strokeWidth":0}},
{"data":{"name":"text"},"transform":[{"filter":"datum.p==='B' && datum.k==='lab'"}],"mark":{"type":"text","fontSize":10,"align":"center","baseline":"middle","color":"#1a1a1a"},"encoding":{"text":{"field":"t"}}},
{"data":{"name":"text"},"transform":[{"filter":"datum.p==='B' && datum.k==='sub'"}],"mark":{"type":"text","fontSize":6.5,"align":"center","baseline":"middle","color":"#1a1a1a"},"encoding":{"text":{"field":"t"}}},
{"data":{"name":"text"},"transform":[{"filter":"datum.p==='B' && datum.k==='ylab'"}],"mark":{"type":"text","fontSize":10,"align":"right","baseline":"middle","color":"#1a1a1a"},"encoding":{"text":{"field":"t"}}},
{"data":{"name":"text"},"transform":[{"filter":"datum.p==='B' && datum.k==='title'"}],"mark":{"type":"text","fontSize":10,"fontWeight":"bold","align":"center","baseline":"middle","color":"#1a1a1a"},"encoding":{"text":{"field":"t"}}},
{"data":{"name":"text"},"transform":[{"filter":"datum.p==='B' && datum.k==='rot'"}],"mark":{"type":"text","fontSize":10.2,"fontWeight":"bold","angle":270,"align":"center","baseline":"middle","color":"#1a1a1a"},"encoding":{"text":{"field":"t"}}},
{"data":{"name":"text"},"transform":[{"filter":"datum.p==='B' && datum.k==='letter'"}],"mark":{"type":"text","fontSize":15,"fontWeight":"bold","align":"center","baseline":"middle","color":"black"},"encoding":{"text":{"field":"t"}}}
]},
{"width":387,"height":283,
"encoding":{"x":{"field":"x","type":"quantitative","scale":{"domain":[-4.485,14.865],"nice":false,"zero":false},"axis":null},"y":{"field":"y","type":"quantitative","scale":{"domain":[-13.5,14.8],"nice":false,"zero":false},"axis":null}},
"layer":[
{"data":{"name":"bg"},"transform":[{"filter":"datum.p==='C'"}],"mark":{"type":"rect","color":"#e8e8e8"},"encoding":{"x2":{"field":"x2"},"y2":{"field":"y2"}}},
{"data":{"name":"seg"},"transform":[{"filter":"datum.p==='C' && datum.k==='axis2'"}],"mark":{"type":"rule","strokeWidth":1.8,"color":"#1a1a1a"},"encoding":{"x2":{"field":"x2"},"y2":{"field":"y2"}}},
{"data":{"name":"seg"},"transform":[{"filter":"datum.p==='C' && datum.k==='thin'"}],"mark":{"type":"rule","strokeWidth":1.3,"color":"#1a1a1a"},"encoding":{"x2":{"field":"x2"},"y2":{"field":"y2"}}},
{"data":{"name":"curve"},"transform":[{"filter":"datum.p==='C' && datum.k==='open'"}],"mark":{"type":"line","interpolate":"catmull-rom","strokeWidth":1.3,"color":"#1a1a1a"},"encoding":{"detail":{"field":"s"},"order":{"field":"o"}}},
{"data":{"name":"curve"},"transform":[{"filter":"datum.p==='C' && datum.k==='closed'"}],"mark":{"type":"line","interpolate":"cardinal-closed","strokeWidth":1.3,"color":"#1a1a1a"},"encoding":{"detail":{"field":"s"},"order":{"field":"o"}}},
{"data":{"name":"curve"},"transform":[{"filter":"datum.p==='C' && datum.k==='dash'"}],"mark":{"type":"line","interpolate":"catmull-rom","strokeWidth":1.3,"strokeDash":[3,2],"color":"#1a1a1a"},"encoding":{"detail":{"field":"s"},"order":{"field":"o"}}},
{"data":{"name":"text"},"transform":[{"filter":"datum.p==='C' && datum.k==='lab'"}],"mark":{"type":"text","fontSize":10,"align":"center","baseline":"middle","color":"#1a1a1a"},"encoding":{"text":{"field":"t"}}},
{"data":{"name":"text"},"transform":[{"filter":"datum.p==='C' && datum.k==='sub'"}],"mark":{"type":"text","fontSize":6.5,"align":"center","baseline":"middle","color":"#1a1a1a"},"encoding":{"text":{"field":"t"}}},
{"data":{"name":"text"},"transform":[{"filter":"datum.p==='C' && datum.k==='ylab'"}],"mark":{"type":"text","fontSize":10,"align":"right","baseline":"middle","color":"#1a1a1a"},"encoding":{"text":{"field":"t"}}},
{"data":{"name":"text"},"transform":[{"filter":"datum.p==='C' && datum.k==='title'"}],"mark":{"type":"text","fontSize":10.5,"fontWeight":"bold","align":"center","baseline":"middle","color":"#1a1a1a"},"encoding":{"text":{"field":"t"}}},
{"data":{"name":"text"},"transform":[{"filter":"datum.p==='C' && datum.k==='rot'"}],"mark":{"type":"text","fontSize":10.5,"fontWeight":"bold","angle":270,"align":"center","baseline":"middle","color":"#1a1a1a"},"encoding":{"text":{"field":"t"}}},
{"data":{"name":"text"},"transform":[{"filter":"datum.p==='C' && datum.k==='letter'"}],"mark":{"type":"text","fontSize":15,"fontWeight":"bold","align":"center","baseline":"middle","color":"black"},"encoding":{"text":{"field":"t"}}}
]},
{"width":387,"height":283,
"encoding":{"x":{"field":"x","type":"quantitative","scale":{"domain":[-4.926,14.233],"nice":false,"zero":false},"axis":null},"y":{"field":"y","type":"quantitative","scale":{"domain":[-13.5,14.8],"nice":false,"zero":false},"axis":null}},
"layer":[
{"data":{"name":"bg"},"transform":[{"filter":"datum.p==='D'"}],"mark":{"type":"rect","color":"#e8e8e8"},"encoding":{"x2":{"field":"x2"},"y2":{"field":"y2"}}},
{"data":{"name":"seg"},"transform":[{"filter":"datum.p==='D' && datum.k==='axis2'"}],"mark":{"type":"rule","strokeWidth":1.8,"color":"#1a1a1a"},"encoding":{"x2":{"field":"x2"},"y2":{"field":"y2"}}},
{"data":{"name":"seg"},"transform":[{"filter":"datum.p==='D' && datum.k==='thin'"}],"mark":{"type":"rule","strokeWidth":1.3,"color":"#1a1a1a"},"encoding":{"x2":{"field":"x2"},"y2":{"field":"y2"}}},
{"data":{"name":"curve"},"transform":[{"filter":"datum.p==='D' && datum.k==='open'"}],"mark":{"type":"line","interpolate":"catmull-rom","strokeWidth":1.3,"color":"#1a1a1a"},"encoding":{"detail":{"field":"s"},"order":{"field":"o"}}},
{"data":{"name":"curve"},"transform":[{"filter":"datum.p==='D' && datum.k==='closed'"}],"mark":{"type":"line","interpolate":"cardinal-closed","strokeWidth":1.3,"color":"#1a1a1a"},"encoding":{"detail":{"field":"s"},"order":{"field":"o"}}},
{"data":{"name":"curve"},"transform":[{"filter":"datum.p==='D' && datum.k==='dash'"}],"mark":{"type":"line","interpolate":"catmull-rom","strokeWidth":1.3,"strokeDash":[3,2],"color":"#1a1a1a"},"encoding":{"detail":{"field":"s"},"order":{"field":"o"}}},
{"data":{"name":"text"},"transform":[{"filter":"datum.p==='D' && datum.k==='lab'"}],"mark":{"type":"text","fontSize":10,"align":"center","baseline":"middle","color":"#1a1a1a"},"encoding":{"text":{"field":"t"}}},
{"data":{"name":"text"},"transform":[{"filter":"datum.p==='D' && datum.k==='sub'"}],"mark":{"type":"text","fontSize":6.5,"align":"center","baseline":"middle","color":"#1a1a1a"},"encoding":{"text":{"field":"t"}}},
{"data":{"name":"text"},"transform":[{"filter":"datum.p==='D' && datum.k==='ylab'"}],"mark":{"type":"text","fontSize":10,"align":"right","baseline":"middle","color":"#1a1a1a"},"encoding":{"text":{"field":"t"}}},
{"data":{"name":"text"},"transform":[{"filter":"datum.p==='D' && datum.k==='title'"}],"mark":{"type":"text","fontSize":10.5,"fontWeight":"bold","align":"center","baseline":"middle","color":"#1a1a1a"},"encoding":{"text":{"field":"t"}}},
{"data":{"name":"text"},"transform":[{"filter":"datum.p==='D' && datum.k==='rot'"}],"mark":{"type":"text","fontSize":10.5,"fontWeight":"bold","angle":270,"align":"center","baseline":"middle","color":"#1a1a1a"},"encoding":{"text":{"field":"t"}}},
{"data":{"name":"text"},"transform":[{"filter":"datum.p==='D' && datum.k==='letter'"}],"mark":{"type":"text","fontSize":15,"fontWeight":"bold","align":"center","baseline":"middle","color":"black"},"encoding":{"text":{"field":"t"}}}
]}
]
}
